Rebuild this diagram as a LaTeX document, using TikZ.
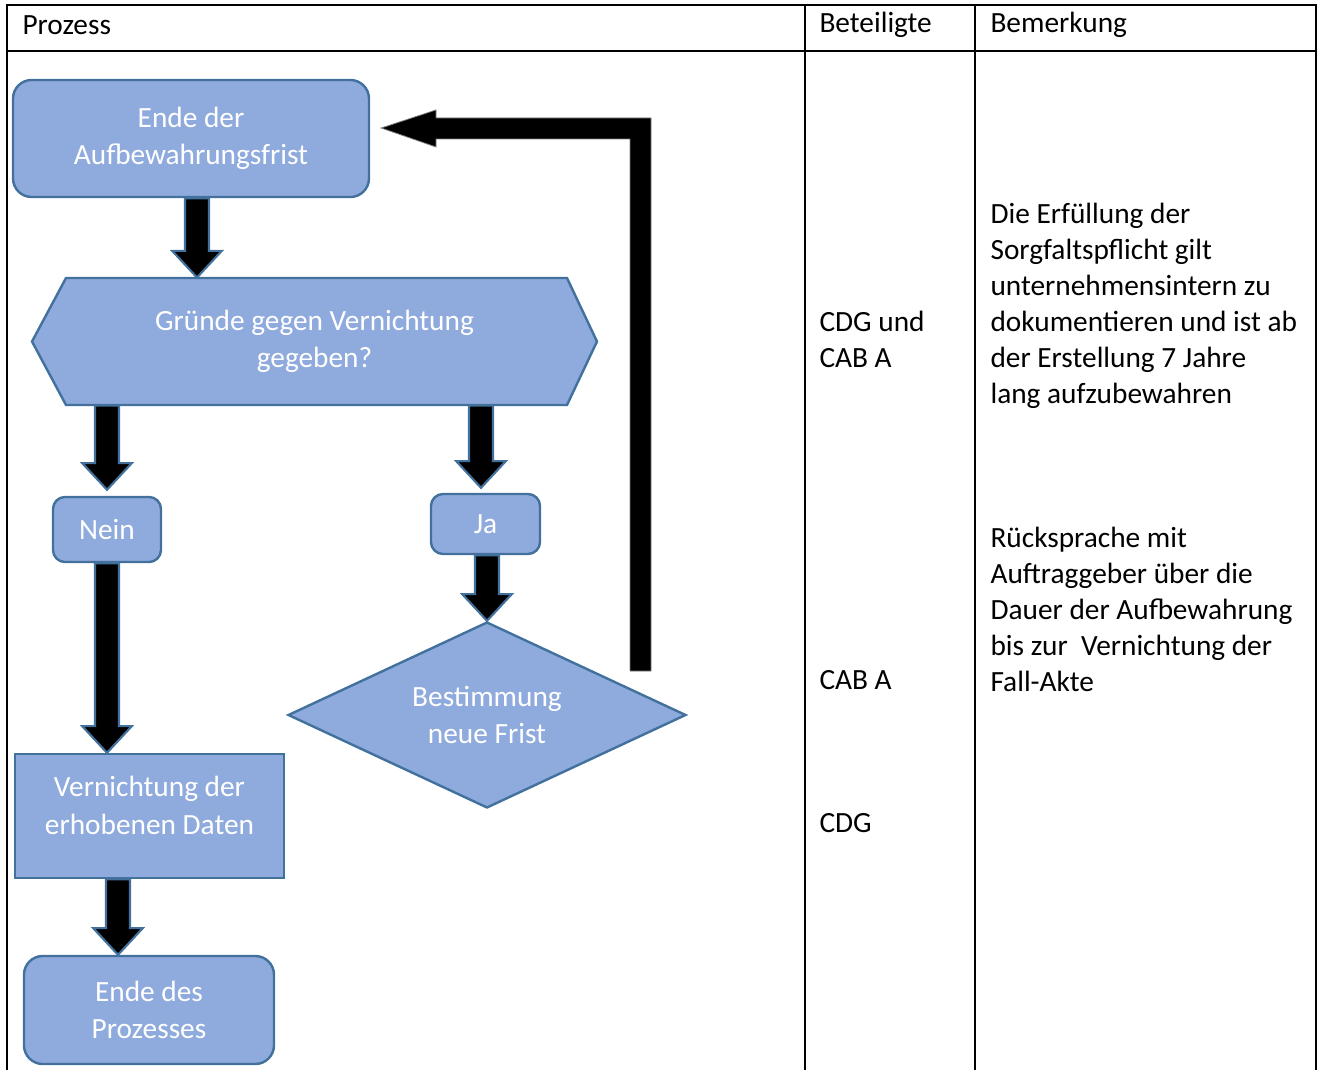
\documentclass[tikz,border=0pt]{standalone}
\usepackage{fontspec}
\setmainfont{Carlito}
\usetikzlibrary{shapes.geometric,calc}
\definecolor{boxfill}{RGB}{143,170,220}
\definecolor{boxline}{RGB}{65,113,156}
\tikzset{
  flowbox/.style={draw=boxline,fill=boxfill,line width=0.9pt,text=white,align=center,inner sep=0pt},
  roundbox/.style={flowbox,rounded corners=7pt},
  blockarrow/.style={fill=black,draw=boxline,line width=0.8pt},
  celltext/.style={anchor=north west,inner sep=0pt,align=left},
}
% fat arrow pointing down, from #1 to the tip #2
\newcommand{\fatarrow}[2]{%
  \draw[blockarrow] let \p1=(#1), \p2=(#2) in
    (\x2-4.5pt,\y1) -- (\x2-4.5pt,\y2+10pt) -- (\x2-9.3pt,\y2+10pt) -- (\x2,\y2)
    -- (\x2+9.3pt,\y2+10pt) -- (\x2+4.5pt,\y2+10pt) -- (\x2+4.5pt,\y1) -- cycle;}
\begin{document}
\begin{tikzpicture}[x=0.375pt,y=-0.375pt,font=\fontsize{11}{13.5}\selectfont]
\useasboundingbox (0,0) rectangle (1319,1070);
% table
\draw [line width=0.8pt](7,1075) -- (7,5) -- (1316,5) -- (1316,1075);
\draw [line width=0.8pt](7,51) -- (1316,51);
\draw [line width=0.8pt](805,5) -- (805,1075);
\draw [line width=0.8pt](975,5) -- (975,1075);
\node [anchor=west,inner sep=0pt] (hprozess) at (22,25) {Prozess};
\node [anchor=west,inner sep=0pt] (hbeteiligte) at (819,25) {Beteiligte};
\node [anchor=west,inner sep=0pt] (hbemerkung) at (990,25) {Bemerkung};
% flow
\node [roundbox,minimum width=133.5pt,minimum height=43.9pt,font=\fontsize{11}{14}\selectfont] (ende) at (191,138.5) {Ende der\\Aufbewahrungsfrist};
\draw [draw=boxline,fill=boxfill,line width=0.9pt](66,278) -- (567,278) -- (597,341.5) -- (567,405) -- (66,405) -- (32,341.5) -- cycle;
\node [align=center,text=white,minimum width=187.9pt,minimum height=47.6pt,inner sep=0pt,font=\fontsize{11}{14}\selectfont] (hex) at (314.5,341.5) {Gründe gegen Vernichtung\\gegeben?};
\node [roundbox,rounded corners=4.5pt,minimum width=40.5pt,minimum height=24.4pt] (nein) at (107,529.5) {Nein};
\node [roundbox,rounded corners=4.5pt,minimum width=40.9pt,minimum height=22.5pt] (ja) at (485.5,524) {Ja};
\node [flowbox,diamond,aspect=2.14,minimum width=149.25pt,minimum height=69.75pt,font=\fontsize{11}{14}\selectfont] (dia) at (487,715) {Bestimmung\\neue Frist};
\node [flowbox,minimum width=100.9pt,minimum height=46.5pt,font=\fontsize{11}{14}\selectfont] (vern) at (149.5,816) {Vernichtung der\\erhobenen Daten\\[-6pt]};
\node [roundbox,minimum width=93.75pt,minimum height=40.5pt,font=\fontsize{11}{14}\selectfont] (endp) at (149,1010) {Ende des\\Prozesses};
\fatarrow{$(ende.south)+(6,0)$}{$(hex.north)+(-117.5,0)$}
\fatarrow{$(hex.south)+(-208,0)$}{$(nein.north)+(0,-6)$}
\fatarrow{$(hex.south)+(166.5,0)$}{$(ja.north)+(-4.5,-5)$}
\fatarrow{ja.south}{dia.north}
\fatarrow{nein.south}{nein.south |- vern.north}
\fatarrow{$(vern.south)+(-31,0)$}{$(endp.north)+(-31,0)$}
\coordinate (back) at (641,671);
\coordinate (tip) at ($(ende.east)+(11,-10.5)$);
\draw [fill=black,draw=gray,line width=0.3pt]($(back)+(10,0)$) -- (651,118) -- (436,118) -- (436,110) -- (tip) -- (436,147) -- (436,139) -- (630,139) -- ($(back)+(-11,0)$) -- cycle;
% columns
\node [celltext] (cdgcab) at (819,311) {CDG und\\CAB A};
\node [celltext] (cab) at (819,670) {CAB A};
\node [celltext] (cdg) at (819,813) {CDG};
\node [celltext] (note1) at (990,203) {Die Erfüllung der\\Sorgfaltspflicht gilt\\unternehmensintern zu\\dokumentieren und ist ab\\der Erstellung 7 Jahre\\lang aufzubewahren};
\node [celltext] (note2) at (990,527) {Rücksprache mit\\Auftraggeber über die\\Dauer der Aufbewahrung\\bis zur\ \ Vernichtung der\\Fall-Akte};
\end{tikzpicture}
\end{document}
